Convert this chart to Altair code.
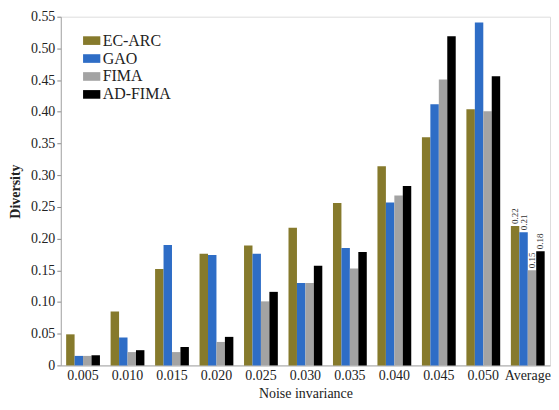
import altair as alt
import pandas as pd

categories = ["0.005", "0.010", "0.015", "0.020", "0.025", "0.030", "0.035", "0.040", "0.045", "0.050", "Average"]
series = ["EC-ARC", "GAO", "FIMA", "AD-FIMA"]
ec_arc = [0.049, 0.085, 0.152, 0.176, 0.189, 0.217, 0.256, 0.314, 0.360, 0.404, 0.22]
gao = [0.015, 0.044, 0.190, 0.174, 0.176, 0.130, 0.185, 0.257, 0.412, 0.541, 0.21]
fima = [0.015, 0.021, 0.021, 0.037, 0.101, 0.130, 0.153, 0.268, 0.451, 0.401, 0.15]
ad_fima = [0.016, 0.024, 0.029, 0.045, 0.116, 0.157, 0.179, 0.283, 0.519, 0.456, 0.18]
y_ticks = [0, 0.05, 0.1, 0.15, 0.2, 0.25, 0.3, 0.35, 0.4, 0.45, 0.5, 0.55]
colors = ["#867a2c", "#2e6dc6", "#a3a3a3", "#000000"]

rows = []
for s, vals in zip(series, [ec_arc, gao, fima, ad_fima]):
    for c, v in zip(categories, vals):
        rows.append({"cat": c, "series": s, "value": v})
df = pd.DataFrame(rows)

FONT = "Liberation Serif"

base = alt.Chart(df).encode(
    x=alt.X("cat:N", sort=categories, title="Noise invariance",
            scale=alt.Scale(paddingInner=0.24, paddingOuter=0.12),
            axis=alt.Axis(labelAngle=0, ticks=False, labelFontSize=14, labelFont=FONT,
                          titleFont=FONT, titleFontSize=14, titleFontWeight="normal",
                          labelColor="#222", titleColor="#222", domainColor="#aaa",
                          labelPadding=3, titlePadding=4)),
    xOffset=alt.XOffset("series:N", sort=series, scale=alt.Scale(paddingInner=0, paddingOuter=0)),
    y=alt.Y("value:Q", title="Diversity",
            scale=alt.Scale(domain=[0, 0.55], nice=False),
            axis=alt.Axis(values=y_ticks,
                          labelExpr="datum.value == 0 ? '0' : format(datum.value, '.2f')",
                          labelOverlap=False, labelBound=False, labelFlush=False,
                          grid=False, tickSize=4, labelFontSize=14, labelFont=FONT,
                          titleFont=FONT, titleFontSize=14, titleFontWeight="bold",
                          labelColor="#222", titleColor="#222", domainColor="#aaa",
                          tickColor="#888", labelPadding=2, titlePadding=8)),
)

bars = base.mark_bar(stroke=None).encode(
    color=alt.Color("series:N", sort=series,
                    scale=alt.Scale(domain=series, range=colors),
                    legend=alt.Legend(title=None, orient="none", legendX=22, legendY=15,
                                      symbolType="M-1,-0.5H1V0.5H-1Z", symbolSize=300,
                                      symbolStrokeWidth=0, labelFont=FONT, labelFontSize=16,
                                      labelColor="#222", rowPadding=1, labelOffset=2)),
)

labels = base.mark_text(angle=270, align="left", baseline="middle", dx=2,
                        font=FONT, fontSize=9, color="#333").encode(
    text=alt.Text("value:Q", format=".2f"),
).transform_filter(alt.datum.cat == "Average")

chart = (bars + labels).properties(
    width=491, height=350, padding={"left": 0, "top": 1, "right": 0, "bottom": 0}
).configure_view(
    stroke="#999", strokeWidth=1
).configure(font=FONT).configure_legend(labelFont=FONT)

chart.save("out.html", embed_options={"renderer": "svg", "actions": False})
